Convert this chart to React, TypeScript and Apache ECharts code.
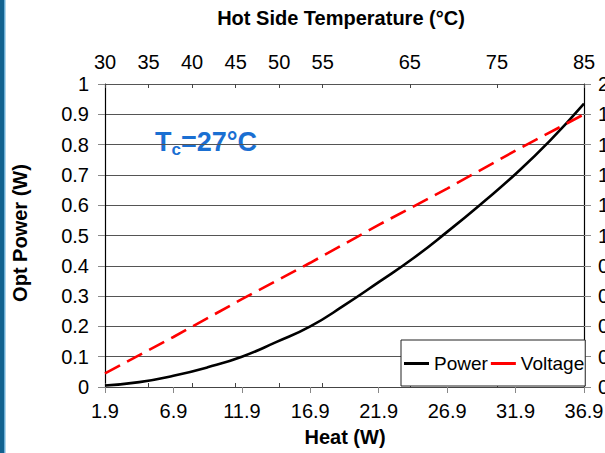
import React, { useEffect, useRef } from "react";
import * as echarts from "echarts";

const heat = [1.9, 4.4, 6.9, 9.4, 11.9, 14.4, 16.9, 19.4, 21.9, 24.4, 26.9, 29.4, 31.9, 34.4, 36.9];
const power = [0.005, 0.016, 0.037, 0.065, 0.1, 0.148, 0.2, 0.27, 0.346, 0.424, 0.512, 0.605, 0.703, 0.812, 0.935];
const voltHeat = [1.9, 6.9, 11.9, 16.9, 21.9, 26.9, 31.9, 36.9];
const voltage = [0.09, 0.33, 0.58, 0.82, 1.07, 1.31, 1.56, 1.8];
const heatTicks = [1.9, 6.9, 11.9, 16.9, 21.9, 26.9, 31.9, 36.9];
const hotTicks = [30, 35, 40, 45, 50, 55, 65, 75, 85];

const FONT = "'Liberation Sans', Arial, Helvetica, sans-serif";

export default function App() {
  const ref = useRef<HTMLDivElement>(null);
  useEffect(() => {
    document.body.style.margin = "0";
    const chart = echarts.init(ref.current!, null, { renderer: "svg" });
    const tickLabel = { fontSize: 20, color: "#000", fontFamily: FONT };
    chart.setOption({
      animation: false,
      backgroundColor: "#fff",
      grid: { left: 105, right: 21, top: 84, bottom: 66, containLabel: false, outerBoundsMode: "none" },
      xAxis: [
        {
          type: "value",
          position: "bottom",
          min: 1.9,
          max: 36.9,
          axisLine: { show: true, lineStyle: { color: "#000", width: 1.2 } },
          axisTick: { show: true, customValues: heatTicks, length: 6, lineStyle: { color: "#888" } },
          axisLabel: { ...tickLabel, customValues: heatTicks, formatter: (v: number) => v.toFixed(1), margin: 14 },
          splitLine: { show: false },
        },
        {
          type: "value",
          position: "top",
          min: 30,
          max: 85,
          axisLine: { show: true, lineStyle: { color: "#444", width: 1 } },
          axisTick: { show: true, inside: false, customValues: hotTicks, length: 4, lineStyle: { color: "#444" } },
          axisLabel: { ...tickLabel, customValues: hotTicks, margin: 12 },
          splitLine: { show: false },
        },
        {
          type: "value",
          position: "top",
          min: 30,
          max: 85,
          axisLine: { show: false },
          axisTick: { show: true, inside: true, customValues: hotTicks, length: 4, lineStyle: { color: "#444" } },
          axisLabel: { show: false },
          splitLine: { show: false },
        },
      ],
      yAxis: [
        {
          type: "value",
          position: "left",
          min: 0,
          max: 1,
          interval: 0.1,
          axisLine: { show: true, lineStyle: { color: "#000", width: 1.2 } },
          axisTick: { show: true, length: 7, lineStyle: { color: "#888" } },
          axisLabel: { ...tickLabel, margin: 16 },
          splitLine: { show: true, lineStyle: { color: "#555", width: 1 } },
        },
        {
          type: "value",
          position: "right",
          min: 0,
          max: 2,
          interval: 0.2,
          axisLine: { show: true, lineStyle: { color: "#000", width: 1.2 } },
          axisTick: { show: true, length: 7, lineStyle: { color: "#888" } },
          axisLabel: { ...tickLabel, margin: 14 },
          splitLine: { show: false },
        },
      ],
      legend: {
        data: ["Power", "Voltage"],
        icon: "rect",
        left: 401,
        top: 340,
        orient: "horizontal",
        itemWidth: 25,
        itemHeight: 3,
        itemGap: 3,
        padding: [14, 1, 13, 3],
        borderColor: "#222",
        borderWidth: 1,
        borderRadius: 0,
        backgroundColor: "#fff",
        textStyle: { fontSize: 19, color: "#000", fontFamily: FONT },
      },
      series: [
        {
          name: "Power",
          type: "line",
          xAxisIndex: 0,
          yAxisIndex: 0,
          smooth: 0.5,
          symbol: "none",
          showSymbol: false,
          data: heat.map((h, i) => [h, power[i]]),
          lineStyle: { color: "#000", width: 2.6 },
          itemStyle: { color: "#000" },
        },
        {
          name: "Voltage",
          type: "line",
          xAxisIndex: 0,
          yAxisIndex: 1,
          symbol: "none",
          showSymbol: false,
          data: voltHeat.map((h, i) => [h, voltage[i]]),
          lineStyle: { color: "#ff0000", width: 2.6, type: [17, 8] },
          itemStyle: { color: "#ff0000" },
        },
      ],
      graphic: [
        { type: "rect", left: 0, top: 0, shape: { width: 4, height: 453 }, style: { fill: "#12628f" }, silent: true },
        { type: "rect", left: 4, top: 0, shape: { width: 1.5, height: 453 }, style: { fill: "#6aaed6" }, silent: true },
        {
          type: "text",
          x: 341,
          y: 18,
          style: {
            text: "Hot Side Temperature (°C)",
            fontSize: 20,
            fontWeight: "bold",
            fontFamily: FONT,
            fill: "#000",
            align: "center",
            verticalAlign: "middle",
          },
        },
        {
          type: "text",
          x: 345,
          y: 437,
          style: {
            text: "Heat (W)",
            fontSize: 20,
            fontWeight: "bold",
            fontFamily: FONT,
            fill: "#000",
            align: "center",
            verticalAlign: "middle",
          },
        },
        {
          type: "text",
          x: 20,
          y: 233,
          rotation: Math.PI / 2,
          style: {
            text: "Opt Power (W)",
            fontSize: 20,
            fontWeight: "bold",
            fontFamily: FONT,
            fill: "#000",
            align: "center",
            verticalAlign: "middle",
          },
        },
        {
          type: "text",
          x: 155,
          y: 142,
          style: {
            text: "{t|T}{s|c}{t|=27°C}",
            fontFamily: FONT,
            verticalAlign: "middle",
            align: "left",
            rich: {
              t: { fontSize: 27, fontWeight: "bold", fill: "#1a6fd2", fontFamily: FONT },
              s: { fontSize: 17, fontWeight: "bold", fill: "#1a6fd2", fontFamily: FONT, padding: [14, 0, 0, 0] },
            },
          },
        },
      ],
    });
    return () => chart.dispose();
  }, []);
  return <div ref={ref} style={{ width: 605, height: 453 }} />;
}
